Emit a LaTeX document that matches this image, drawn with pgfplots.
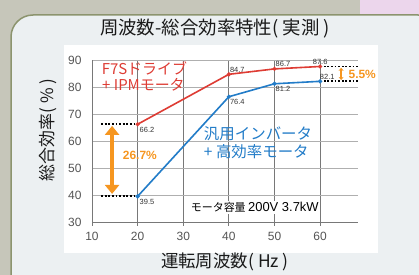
\documentclass[border=0pt]{standalone}
\usepackage{pgfplots}
\pgfplotsset{compat=1.18}
\usepackage{fontspec}
\setmainfont{Noto Sans CJK JP}
\newfontfamily\lat{Liberation Sans}
\usetikzlibrary{arrows.meta}
\definecolor{bgout}{RGB}{198,198,186}
\definecolor{pinkbg}{RGB}{236,214,236}
\definecolor{panel}{RGB}{236,240,242}
\definecolor{panelborder}{RGB}{140,148,110}
\definecolor{redl}{RGB}{222,60,52}
\definecolor{bluel}{RGB}{34,124,200}
\definecolor{orangel}{RGB}{246,150,32}
\definecolor{vgrid}{RGB}{120,120,120}
\definecolor{hgrid}{RGB}{175,175,175}
\definecolor{ticktext}{RGB}{85,85,85}
\begin{document}
\begin{tikzpicture}[x=1bp,y=1bp]
\path[use as bounding box] (0,0) rectangle (419,275);
\fill[bgout] (0,0) rectangle (419,275);
\fill[pinkbg] (360,255) rectangle (419,275);
\begin{scope}
\clip (0,0) rectangle (419,275);
\draw[panelborder, line width=1.5bp, fill=panel, rounded corners=22bp] (11,-30) rectangle (440,260);
\end{scope}
\fill[white] (64,22) rectangle (378,230);
\node[font=\fontsize{18.5}{20}\selectfont, text=black!90] at (215,246) {周波数-総合効率特性( 実測 )};
\node[font=\fontsize{17}{19}\selectfont, rotate=90, text=black!90] at (48,145) {総合効率( \% )};
\node[font=\fontsize{17.5}{19}\selectfont, text=black!90] at (225,13) {運転周波数( Hz )};
\begin{axis}[
  at={(92bp,53bp)}, anchor=south west,
  width=266bp, height=162bp, scale only axis,
  xmin=10, xmax=68.3, ymin=30, ymax=90,
  xtick={10,20,30,40,50,60}, ytick={30,40,50,60,70,80,90},
  axis lines=left, axis line style={-, vgrid, line width=0.8bp},
  xmajorgrids, ymajorgrids,
  x grid style={vgrid, line width=0.8bp},
  y grid style={hgrid, line width=0.8bp},
  tick align=outside,
  x tick style={vgrid, line width=0.8bp}, major tick length=4bp,
  y tick style={draw=none},
  tick label style={font=\lat\fontsize{12}{14}\selectfont, text=ticktext},
  xticklabel style={yshift=-3bp},
  yticklabel style={xshift=-3bp},
  /pgf/number format/assume math mode=true,
  clip=false,
]
\addplot[redl, line width=1.6bp, mark=*, mark size=1.2bp] coordinates {(20,66.2) (40,84.7) (50,86.7) (60,87.6)};
\addplot[bluel, line width=1.6bp, mark=*, mark size=1.2bp] coordinates {(20,39.5) (40,76.4) (50,81.2) (60,82.1)};
% data labels
\begin{scope}[font=\lat\fontsize{7.5}{8}\selectfont, text=black!80]
\node[anchor=north west, inner sep=1bp] at (axis cs:20.2,65.6) {66.2};
\node[anchor=north west, inner sep=1bp] at (axis cs:20.2,38.9) {39.5};
\node[anchor=south west, inner sep=1bp] at (axis cs:40,85.0) {84.7};
\node[anchor=south west, inner sep=1bp] at (axis cs:50,87.0) {86.7};
\node[anchor=south, inner sep=1bp] at (axis cs:60,88.0) {87.6};
\node[anchor=south west, inner sep=1bp] at (axis cs:59.7,82.4) {82.1};
\node[anchor=north west, inner sep=1bp] at (axis cs:40,75.8) {76.4};
\node[anchor=north west, inner sep=1bp] at (axis cs:50,80.6) {81.2};
\end{scope}
% dotted lines
\draw[black, line width=1.8bp, dash pattern=on 1.8bp off 1.8bp] (axis cs:12,66.2) -- (axis cs:20,66.2);
\draw[black, line width=1.8bp, dash pattern=on 1.8bp off 1.8bp] (axis cs:12,39.5) -- (axis cs:20,39.5);
\draw[black, line width=1.8bp, dash pattern=on 1.8bp off 1.8bp] (axis cs:60.8,87.6) -- (axis cs:68.3,87.6);
\draw[black, line width=1.8bp, dash pattern=on 1.8bp off 1.8bp] (axis cs:60.8,82.1) -- (axis cs:68.3,82.1);
% arrows
\draw[orangel, line width=4.5bp, {Triangle[width=14bp,length=9bp]}-{Triangle[width=14bp,length=9bp]}] (axis cs:14.4,65.6) -- (axis cs:14.4,40.4);
\draw[orangel, line width=1.4bp, {Stealth[length=3bp,width=5bp]}-{Stealth[length=3bp,width=5bp]}] (axis cs:64.6,87.1) -- (axis cs:64.6,82.6);
\node[text=orangel, font=\lat\bfseries\fontsize{12}{14}\selectfont, anchor=west] at (axis cs:16.0,54.6) {26.7\%};
\node[text=orangel, font=\lat\bfseries\fontsize{12}{14}\selectfont, anchor=west, inner sep=0] at (axis cs:66.2,84.8) {5.5\%};
% series labels
\node[text=redl, font=\fontsize{15}{17}\selectfont, anchor=west, inner sep=0] at (axis cs:12.1,87.0) {F7Sドライブ};
\node[text=redl, font=\fontsize{15}{17}\selectfont, anchor=west, inner sep=0] at (axis cs:12.2,80.9) {+ IPMモータ};
\node[text=bluel, font=\fontsize{15.5}{17}\selectfont, anchor=west, inner sep=0] at (axis cs:34.5,62.8) {汎用インバータ};
\node[text=bluel, font=\fontsize{15.5}{17}\selectfont, anchor=west, inner sep=0] at (axis cs:34.5,56.2) {+ 高効率モータ};
\node[fill=white, anchor=west, inner sep=1.5bp] at (axis cs:31.3,35.5) {\fontsize{11}{12}\selectfont モータ容量 \lat\fontsize{13}{14}\selectfont 200V 3.7kW};
\end{axis}
\end{tikzpicture}
\end{document}
